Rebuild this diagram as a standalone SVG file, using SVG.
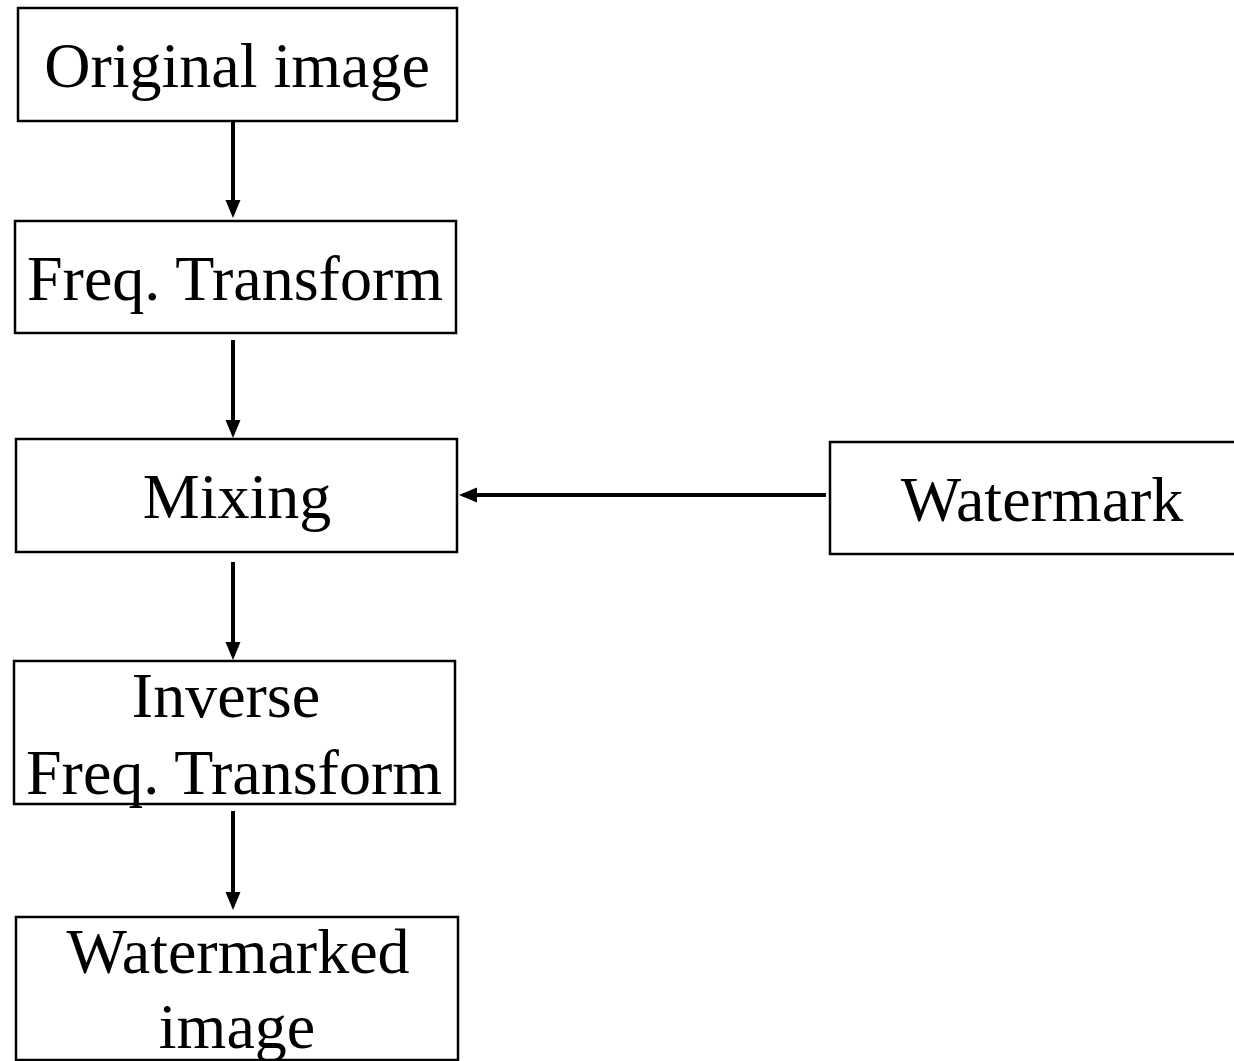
<svg xmlns="http://www.w3.org/2000/svg" width="1234" height="1061" viewBox="0 0 1234 1061">
<style>
.box{fill:#fff;stroke:#000;stroke-width:2.5}
.lbl{font-family:"Liberation Serif","Times New Roman",serif;font-size:64px;fill:#000;text-anchor:middle}
.conn{stroke:#000;stroke-width:4;fill:none}
</style>
<defs>
<marker id="ah" markerUnits="userSpaceOnUse" markerWidth="18" markerHeight="16" refX="14" refY="8" orient="auto" viewBox="0 0 18 16">
<path d="M0,0.5 L18,8 L0,15.5 Z" fill="#000"/>
</marker>
</defs>
<rect width="1234" height="1061" fill="#fff"/>
<g id="connectors">
<line class="conn" x1="233" y1="122" x2="233" y2="214" marker-end="url(#ah)"/>
<line class="conn" x1="233" y1="340" x2="233" y2="434" marker-end="url(#ah)"/>
<line class="conn" x1="233" y1="562" x2="233" y2="656" marker-end="url(#ah)"/>
<line class="conn" x1="233" y1="811" x2="233" y2="906" marker-end="url(#ah)"/>
<line class="conn" x1="826" y1="495" x2="463" y2="495" marker-end="url(#ah)"/>
</g>
<g id="original">
<rect class="box" x="18" y="8" width="439" height="113"/>
<text class="lbl" x="237" y="87">Original image</text>
</g>
<g id="freq">
<rect class="box" x="15" y="221" width="441" height="112"/>
<text class="lbl" x="235" y="300">Freq. Transform</text>
</g>
<g id="mixing">
<rect class="box" x="16" y="439" width="441" height="113"/>
<text class="lbl" x="237" y="518">Mixing</text>
</g>
<g id="watermark">
<rect class="box" x="830" y="442" width="410" height="112"/>
<text class="lbl" x="1042" y="521">Watermark</text>
</g>
<g id="inverse">
<rect class="box" x="14" y="661" width="441" height="143"/>
<text class="lbl" x="226" y="717">Inverse</text>
<text class="lbl" x="234" y="794">Freq. Transform</text>
</g>
<g id="watermarked">
<rect class="box" x="16" y="917" width="442" height="143"/>
<text class="lbl" x="238" y="973">Watermarked</text>
<text class="lbl" x="237" y="1048">image</text>
</g>
</svg>
